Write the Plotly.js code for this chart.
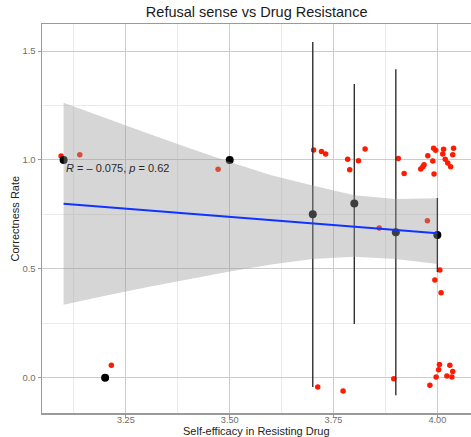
<!DOCTYPE html>
<html>
<head>
<meta charset="utf-8">
<script src="https://cdn.plot.ly/plotly-3.0.1.min.js"></script>
<style>
html,body{margin:0;padding:0;background:#fff;}
#chart{width:471px;height:437px;}
</style>
</head>
<body>
<div id="chart"></div>
<script>
// Raw observations (jittered in the original)
var redX = [3.094, 3.139, 3.215, 3.472, 3.702, 3.721, 3.731, 3.712, 3.773, 3.784, 3.789, 3.81, 3.826, 3.86, 3.895, 3.906, 3.92, 3.96, 3.965, 3.968, 3.977, 3.976, 3.982, 3.989, 3.991, 3.992, 3.994, 3.996, 3.997, 4.003, 4.005, 4.006, 4.009, 4.013, 4.015, 4.019, 4.023, 4.025, 4.03, 4.032, 4.035, 4.037, 4.037, 4.039];
var redY = [1.018, 1.024, 0.057, 0.957, 1.045, 1.039, 1.027, -0.043, -0.061, 1.003, 0.955, 0.996, 1.050, 0.687, -0.005, 1.006, 0.938, 0.958, 0.969, 0.978, 1.019, 0.721, -0.035, 0.995, 1.053, 0.935, 0.449, 1.044, 0.003, 0.037, 0.061, 0.494, 0.39, 1.027, 1.049, 1.003, 0.008, 0.986, 0.057, 0.969, 0.003, 1.024, 0.029, 1.053];

// Group means
var meanX = [3.1, 3.2, 3.5, 3.7, 3.8, 3.9, 4.0];
var meanY = [1.0, 0.0, 1.0, 0.75, 0.80, 0.668, 0.655];

// Error ranges
var errX = [3.7, 3.8, 3.9, 4.0];
var errLow = [-0.043, 0.247, -0.08, 0.485];
var errHigh = [1.541, 1.348, 1.416, 0.825];

// Linear fit and confidence band
var fitX = [3.1, 4.0];
var fitY = [0.799, 0.663];
var bandX = [3.1, 3.2, 3.3, 3.4, 3.5, 3.6, 3.7, 3.8, 3.9, 4.0];
var bandUpper = [1.263, 1.192, 1.123, 1.056, 0.99, 0.93, 0.882, 0.838, 0.82, 0.824];
var bandLower = [0.335, 0.376, 0.415, 0.452, 0.488, 0.52, 0.545, 0.555, 0.545, 0.522];

var xTicks = [3.25, 3.5, 3.75, 4.0];
var xTickText = ["3.25", "3.50", "3.75", "4.00"];
var yTicks = [0, 0.5, 1.0, 1.5];
var yTickText = ["0.0", "0.5", "1.0", "1.5"];

var titleText = 'Refusal sense vs Drug Resistance';
var xTitle = 'Self-efficacy in Resisting Drug';
var yTitle = 'Correctness Rate';
var corLabel = "<i>R</i> = \u2013 0.075, <i>p</i> = 0.62";

// build error bar segments
var segX = [], segY = [];
for (var i = 0; i < errX.length; i++) {
  segX.push(errX[i], errX[i], null);
  segY.push(errLow[i], errHigh[i], null);
}
var polyX = bandX.concat(bandX.slice().reverse());
var polyY = bandUpper.concat(bandLower.slice().reverse());

var traces = [
  {x: redX, y: redY, type: 'scatter', mode: 'markers',
   marker: {color: '#ff1a00', size: 5.5, line: {width: 0}}, hoverinfo: 'skip'},
  {x: segX, y: segY, type: 'scatter', mode: 'lines',
   line: {color: '#303030', width: 1.4}, hoverinfo: 'skip', connectgaps: false},
  {x: meanX, y: meanY, type: 'scatter', mode: 'markers',
   marker: {color: '#000000', size: 8, line: {width: 0}}, hoverinfo: 'skip'},
  {x: polyX, y: polyY, type: 'scatter', mode: 'lines', fill: 'toself',
   fillcolor: 'rgba(153,153,153,0.4)', line: {width: 0}, hoverinfo: 'skip'},
  {x: fitX, y: fitY, type: 'scatter', mode: 'lines',
   line: {color: '#1133ff', width: 2}, hoverinfo: 'skip'}
];

var layout = {
  width: 471, height: 437,
  margin: {l: 42, r: 0, t: 24, b: 24, pad: 0},
  paper_bgcolor: '#ffffff', plot_bgcolor: '#ffffff',
  showlegend: false,
  font: {family: 'Liberation Sans, Arial, sans-serif', color: '#333'},
  title: {text: titleText, x: 0.545, xanchor: 'center',
          y: 0.973, yanchor: 'middle', font: {size: 14.5, color: '#1a1a1a'}},
  xaxis: {
    range: [3.048, 4.081], tickmode: 'array', tickvals: xTicks, ticktext: xTickText,
    showgrid: true, gridcolor: '#cccccc', gridwidth: 1,
    minor: {tickmode: 'array', tickvals: [3.125, 3.375, 3.625, 3.875], showgrid: true, gridcolor: '#ebebeb', gridwidth: 1},
    showline: true, linecolor: '#9a9a9a', linewidth: 1.5, mirror: true,
    ticks: 'outside', ticklen: 3, tickcolor: '#9a9a9a', ticklabelstandoff: -6,
    tickfont: {size: 9.2, color: '#6e6e6e'}, zeroline: false, automargin: false
  },
  yaxis: {
    range: [-0.162, 1.624], tickmode: 'array', tickvals: yTicks, ticktext: yTickText,
    showgrid: true, gridcolor: '#cccccc', gridwidth: 1,
    minor: {tickmode: 'array', tickvals: [0.25, 0.75, 1.25], showgrid: true, gridcolor: '#ebebeb', gridwidth: 1},
    showline: true, linecolor: '#9a9a9a', linewidth: 1.5,
    ticks: 'outside', ticklen: 3, tickcolor: '#9a9a9a',
    tickfont: {size: 9.5, color: '#6e6e6e'}, zeroline: false, automargin: false
  },
  annotations: [
    {x: 3.1, y: 0.964, xref: 'x', yref: 'y', text: corLabel, showarrow: false,
     xanchor: 'left', yanchor: 'middle', font: {size: 11, color: '#2a2a2a'}},
    {x: 0.501, y: -0.047, xref: 'paper', yref: 'paper', text: xTitle, showarrow: false,
     xanchor: 'center', yanchor: 'middle', font: {size: 11, color: '#222'}},
    {x: -0.063, y: 0.5, xref: 'paper', yref: 'paper', text: yTitle, showarrow: false,
     textangle: -90, xanchor: 'center', yanchor: 'middle', font: {size: 11, color: '#222'}}
  ]
};

Plotly.newPlot('chart', traces, layout, {displayModeBar: false, staticPlot: true});
</script>
</body>
</html>
